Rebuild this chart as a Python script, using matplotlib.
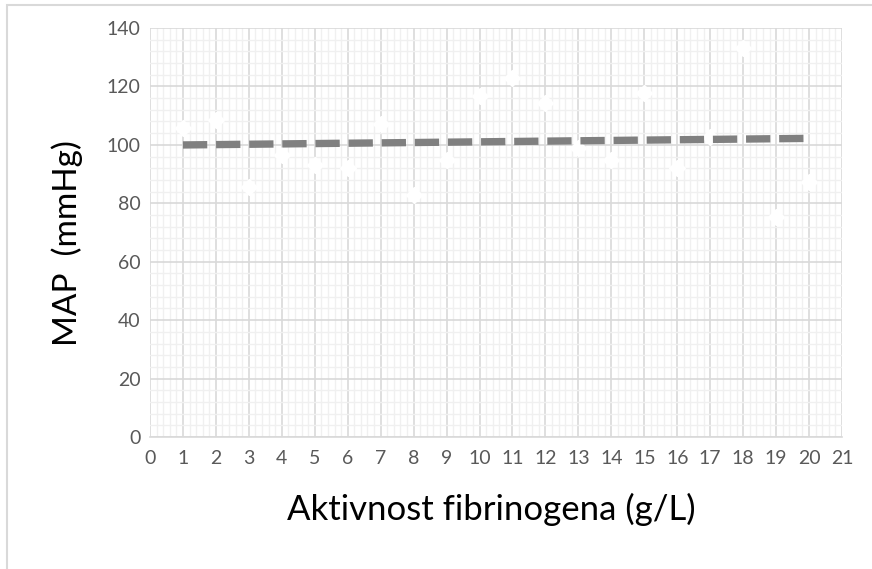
import numpy as np
import matplotlib.pyplot as plt
from matplotlib.patches import Rectangle
from matplotlib.ticker import MultipleLocator

# Aktivnost fibrinogena (g/L) vs MAP (mmHg)
fibrinogen = [1, 2, 3, 4, 5, 6, 7, 8, 9, 10, 11, 12, 13, 14, 15, 16, 17, 18, 19, 20]
map_mmhg = [105.7, 108.5, 85.7, 96.5, 93.1, 92.0, 107.2, 82.8, 94.8, 116.7,
            122.8, 114.2, 98.8, 94.8, 117.7, 92.0, 102.8, 133.0, 75.4, 87.4]

x_label = 'Aktivnost fibrinogena (g/L)'
y_label = 'MAP  (mmHg)'

plt.rcParams['font.family'] = ['Lato', 'DejaVu Sans']

fig = plt.figure(figsize=(8.72, 5.69), dpi=100)
ax = fig.add_axes([150 / 872, 1 - 437 / 569, (842 - 150) / 872, (437 - 28) / 569])

# outer chart border (only left/top visible in the original)
fig.patches.append(Rectangle((7 / 872, -0.1), 1.2, 1 - 5 / 569 + 0.1,
                             transform=fig.transFigure, fill=False,
                             edgecolor='#d9d9d9', linewidth=1.5))

# linear trendline fitted to the data
slope, intercept = np.polyfit(fibrinogen, map_mmhg, 1)
x_fit = np.array([min(fibrinogen), max(fibrinogen)])
ax.plot(x_fit, slope * x_fit + intercept, color='#808080', linewidth=5.3,
        linestyle=(0, (3.3, 1.2)), solid_capstyle='butt', dash_capstyle='butt', zorder=4)

# markers are white diamonds, barely visible over the grid
ax.plot(fibrinogen, map_mmhg, linestyle='none', marker='D', markersize=8.5,
        markerfacecolor='white', markeredgecolor='white', zorder=3)

ax.set_xlim(0, 21)
ax.set_ylim(0, 140)
ax.xaxis.set_major_locator(MultipleLocator(1))
ax.xaxis.set_minor_locator(MultipleLocator(0.2))
ax.yaxis.set_major_locator(MultipleLocator(20))
ax.yaxis.set_minor_locator(MultipleLocator(4))

ax.grid(which='major', color='#d9d9d9', linewidth=1.2, zorder=1)
ax.grid(which='minor', color='#f0f0f0', linewidth=1.0, zorder=0)
ax.set_axisbelow(True)

for side in ['top', 'right', 'left']:
    ax.spines[side].set_visible(False)
ax.spines['bottom'].set_color('#d9d9d9')
ax.spines['bottom'].set_linewidth(1.2)

ax.tick_params(which='both', length=0, labelsize=14, labelcolor='#595959')
ax.tick_params(axis='x', pad=9)
ax.tick_params(axis='y', pad=7)

fig.text(491 / 872, 1 - 520 / 569, x_label, ha='center', va='baseline', fontsize=25, color='black')
fig.text(67 / 872, 1 - 243 / 569, y_label, ha='center', va='center', rotation=90, fontsize=24, color='black')

fig.savefig('out.png', dpi=100)
